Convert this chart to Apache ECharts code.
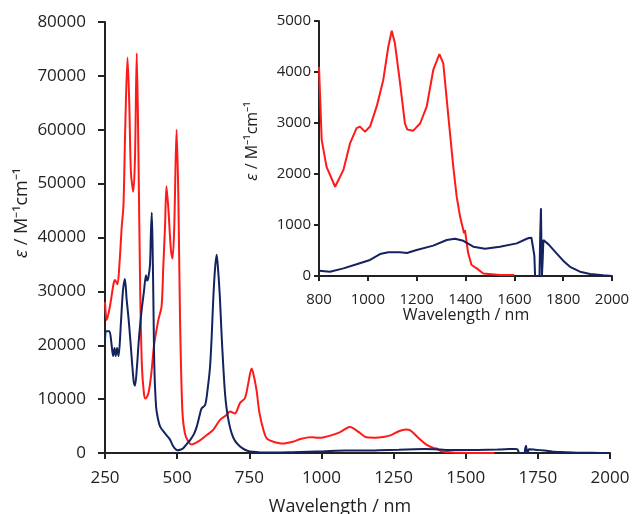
<!DOCTYPE html>
<html>
<head>
<meta charset="utf-8">
<script src="https://cdn.jsdelivr.net/npm/echarts@6/dist/echarts.min.js"></script>
<style>
  html, body { margin: 0; padding: 0; background: #fff; }
  #chart { width: 632px; height: 514px; }
</style>
</head>
<body>
<div id="chart"></div>
<script>
// wavelength (nm), epsilon (M-1 cm-1)
var redSpectrum = [
  [250, 28000], [256, 24700], [267, 27200], [280, 31500], [285, 32100], [293, 31300],
  [300, 35000], [308, 42000], [314, 46000], [320, 60000], [328, 73400], [334, 65000],
  [340, 52000], [348, 48500], [354, 55000], [360, 74200], [366, 55000], [372, 30000],
  [378, 16000], [385, 11000], [390, 10100], [400, 11000], [410, 14500], [420, 20000],
  [435, 24700], [446, 27200], [452, 34600], [458, 42000], [463, 49500], [470, 45000],
  [478, 38000], [484, 36100], [490, 42000], [498, 60000], [504, 48000], [510, 25000],
  [518, 8000], [527, 3600], [540, 2000], [550, 1600], [575, 2200], [602, 3300],
  [625, 4300], [648, 6100], [670, 7000], [683, 7700], [700, 7350], [718, 9300],
  [735, 10200], [745, 12500], [758, 15700], [765, 14500], [775, 11700], [785, 7500],
  [800, 4100], [811, 2670], [831, 2140], [866, 1750], [900, 2080], [927, 2600],
  [954, 2900], [968, 2930], [988, 2830], [1009, 2930], [1036, 3320], [1063, 3840],
  [1084, 4500], [1098, 4810], [1111, 4560], [1132, 3780], [1152, 2990], [1162, 2870],
  [1186, 2850], [1214, 2990], [1241, 3320], [1268, 4040], [1293, 4350], [1309, 4170],
  [1330, 3120], [1350, 2140], [1364, 1550], [1378, 1160], [1394, 840], [1398, 900],
  [1402, 750], [1411, 445], [1425, 215], [1446, 150], [1473, 50], [1541, 20], [1600, 20]
];

var blueSpectrum = [
  [250, 21000], [255, 22600], [265, 22600], [272, 20500], [278, 18000], [283, 19500],
  [287, 18000], [292, 19500], [297, 18000], [305, 24000], [312, 30000], [319, 32300],
  [325, 28500], [331, 25300], [337, 21500], [343, 17300], [350, 13000], [354, 12500],
  [360, 15500], [368, 21500], [377, 26500], [385, 30000], [392, 33000], [396, 32000],
  [400, 32500], [406, 35000], [409, 40800], [412, 44600], [415, 38000], [418, 27000],
  [421, 16000], [427, 8600], [433, 6500], [441, 4900], [458, 3650], [468, 3000],
  [475, 2500], [487, 1200], [495, 700], [501, 500], [510, 600], [521, 900],
  [535, 1800], [545, 2400], [558, 3500], [568, 4900], [578, 7000], [585, 8300],
  [597, 8900], [606, 12000], [614, 16000], [620, 22000], [625, 28400], [631, 34000],
  [637, 36800], [642, 34000], [648, 29000], [654, 22000], [660, 16000], [666, 11000],
  [672, 8000], [680, 5500], [689, 3650], [700, 2300], [718, 1200], [735, 600],
  [752, 300], [780, 150], [801, 105], [845, 85], [900, 150], [954, 230],
  [1009, 315], [1050, 430], [1084, 465], [1132, 465], [1160, 450], [1200, 510],
  [1268, 595], [1323, 705], [1357, 730], [1391, 690], [1432, 575], [1480, 535],
  [1541, 575], [1610, 640], [1651, 730], [1660, 745], [1665, 730], [1670, 750],
  [1678, 720], [1682, 400], [1685, 0], [1703, 0], [1706, 800], [1709, 1330],
  [1711, 600], [1713, 0], [1716, 300], [1719, 705], [1740, 620], [1773, 445],
  [1800, 300], [1828, 180], [1869, 85], [1910, 40], [1964, 15], [2000, 0]
];

var mainXRange = [250, 2000, 250];
var mainYRange = [0, 80000, 10000];
var insetXRange = [800, 2000, 200];
var insetYRange = [0, 5000, 1000];

var FONT = 'Open Sans';
var TXT = '#222';
var RED = '#ff1a1a';
var BLUE = '#13235f';

// inset only shows the NIR part
function nirPart(arr) {
  return arr.filter(function (p) { return p[0] >= insetXRange[0]; });
}

function axisStyle(fontSize, margin, tickLen) {
  return {
    axisLine: { show: true, onZero: false, lineStyle: { color: '#222', width: 2 } },
    axisTick: { show: true, inside: false, length: tickLen, lineStyle: { color: '#222', width: 2 } },
    axisLabel: { color: TXT, fontFamily: FONT, fontSize: fontSize, margin: margin,
      showMinLabel: true, showMaxLabel: true,
      formatter: function (v) { return String(v); } },
    splitLine: { show: false }
  };
}

function makeAxis(range, fontSize, margin, tickLen, extra) {
  var a = axisStyle(fontSize, margin, tickLen);
  a.type = 'value';
  a.min = range[0];
  a.max = range[1];
  a.interval = range[2];
  for (var k in extra) a[k] = extra[k];
  return a;
}

var chart = echarts.init(document.getElementById('chart'), null, { renderer: 'canvas' });

var option = {
  animation: false,
  backgroundColor: '#fff',
  grid: [
    { left: 105, right: 22, top: 22, bottom: 61, outerBoundsMode: 'none' },
    { left: 319, right: 20, top: 21, bottom: 238, outerBoundsMode: 'none' }
  ],
  xAxis: [
    makeAxis(mainXRange, 17, 17, 6, { gridIndex: 0 }),
    makeAxis(insetXRange, 15, 16, 5, { gridIndex: 1 })
  ],
  yAxis: [
    makeAxis(mainYRange, 17, 19, 7, { gridIndex: 0 }),
    makeAxis(insetYRange, 15, 8, 5, { gridIndex: 1 })
  ],
  series: [
    { type: 'line', xAxisIndex: 0, yAxisIndex: 0, data: blueSpectrum, showSymbol: false,
      smooth: 0.3, lineStyle: { color: BLUE, width: 2 }, z: 3 },
    { type: 'line', xAxisIndex: 0, yAxisIndex: 0, data: redSpectrum, showSymbol: false,
      smooth: 0.3, lineStyle: { color: RED, width: 2 }, z: 2 },
    { type: 'line', xAxisIndex: 1, yAxisIndex: 1, data: nirPart(redSpectrum), showSymbol: false,
      smooth: false, lineStyle: { color: RED, width: 2 }, z: 2 },
    { type: 'line', xAxisIndex: 1, yAxisIndex: 1, data: nirPart(blueSpectrum), showSymbol: false,
      smooth: false, lineStyle: { color: BLUE, width: 2 }, z: 3 }
  ],
  graphic: [
    { type: 'text', x: 22, y: 213, rotation: Math.PI / 2,
      style: { text: '{i|ε} / M⁻¹cm⁻¹', fill: TXT, font: '18px "Open Sans"',
        align: 'center', verticalAlign: 'middle',
        rich: { i: { fontStyle: 'italic', fontFamily: FONT, fontSize: 18, fill: TXT } } } },
    { type: 'text', x: 340, y: 507,
      style: { text: 'Wavelength / nm', fill: TXT, font: '18px "Open Sans"',
        align: 'center', verticalAlign: 'middle' } },
    { type: 'text', x: 252, y: 141, rotation: Math.PI / 2,
      style: { text: '{i|ε} / M⁻¹cm⁻¹', fill: TXT, font: '16px "Open Sans"',
        align: 'center', verticalAlign: 'middle',
        rich: { i: { fontStyle: 'italic', fontFamily: FONT, fontSize: 16, fill: TXT } } } },
    { type: 'text', x: 466, y: 315,
      style: { text: 'Wavelength / nm', fill: TXT, font: '16px "Open Sans"',
        align: 'center', verticalAlign: 'middle' } }
  ]
};

chart.setOption(option);
</script>
</body>
</html>
